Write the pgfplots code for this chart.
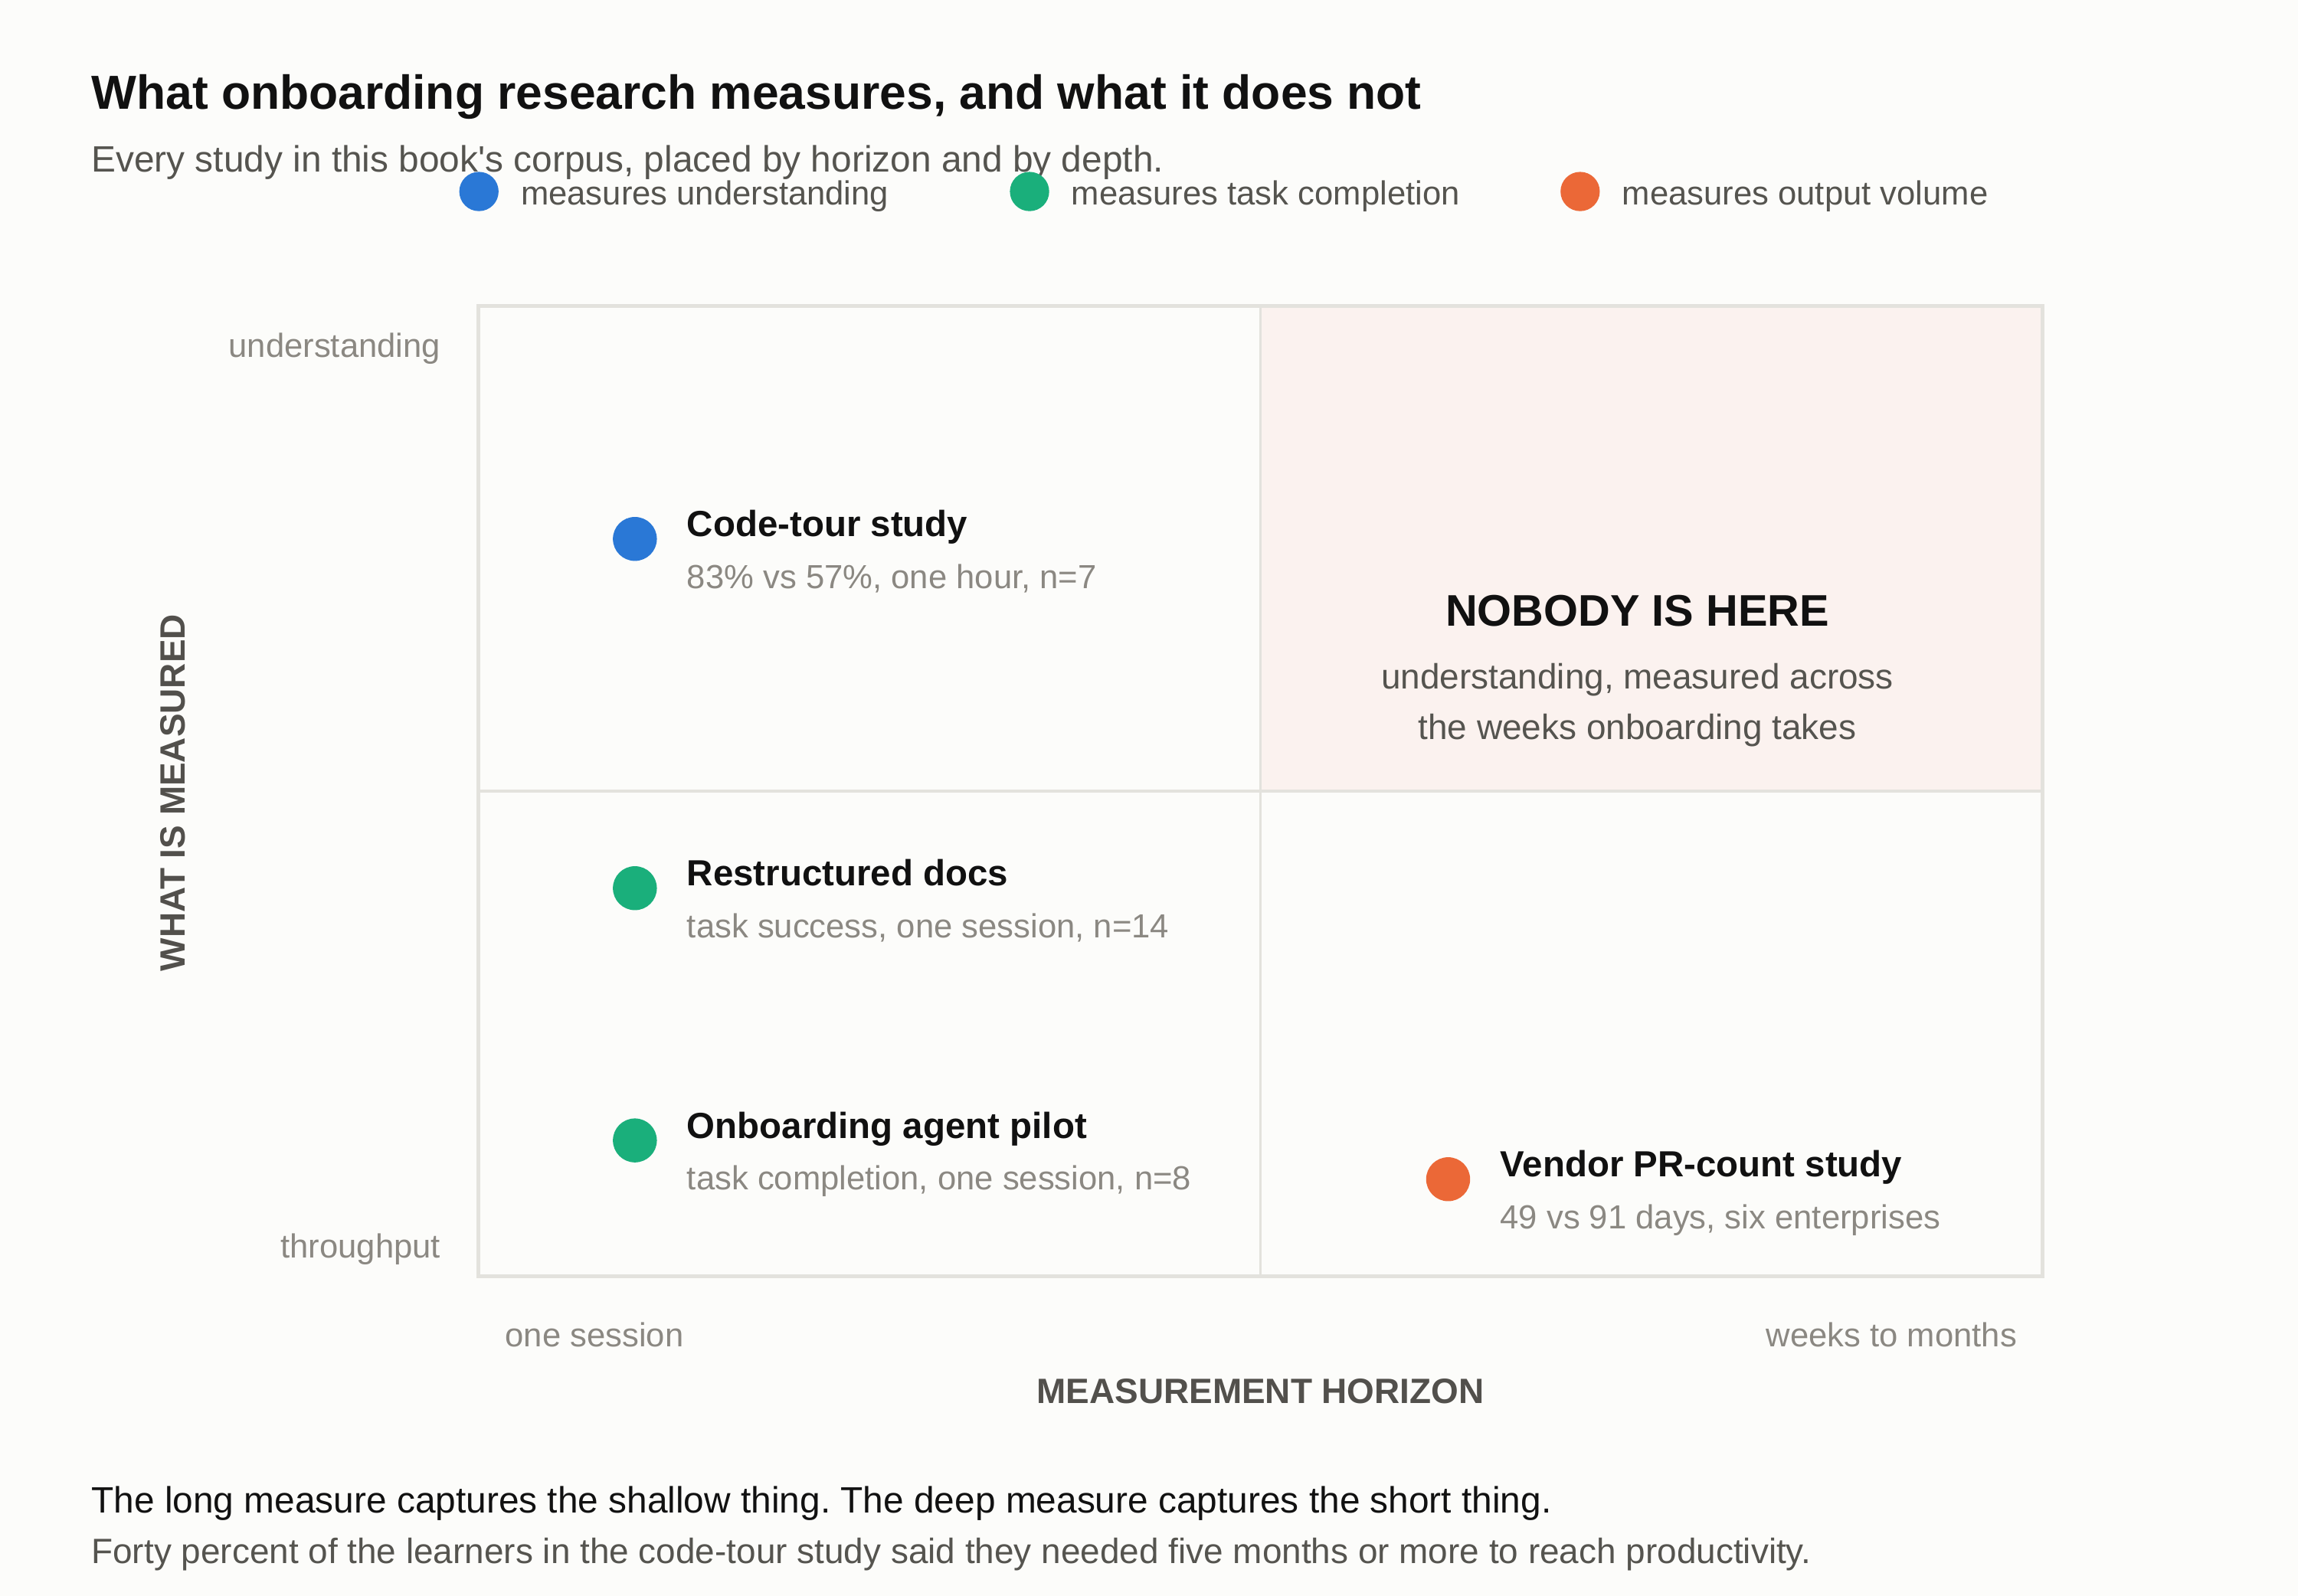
\documentclass[border=0pt]{standalone}
\usepackage{fontspec}
\setmainfont{Liberation Sans}[Ligatures=TeXOff]
\usepackage{pgfplots}
\pgfplotsset{compat=1.18}

\definecolor{bg}{HTML}{FCFCFA}
\definecolor{ink}{HTML}{111111}
\definecolor{sub}{HTML}{55544F}
\definecolor{tickgray}{HTML}{8B8882}
\definecolor{axlab}{HTML}{52504C}
\definecolor{frame}{HTML}{E3E2DD}
\definecolor{pinkq}{HTML}{FBF2EF}
\definecolor{cblue}{HTML}{2A78D6}
\definecolor{cgreen}{HTML}{1AAF7B}
\definecolor{corange}{HTML}{EB6837}

\begin{document}
\frenchspacing
\begin{tikzpicture}[x=0.5pt,y=0.5pt,
    lab/.style={anchor=base west, inner sep=0pt, xshift=17.6pt, yshift=0.75pt, text=ink,
      font=\fontsize{12.4pt}{15pt}\selectfont\bfseries},
    sublab/.style={anchor=base west, inner sep=0pt, xshift=17.6pt, yshift=-16.8pt,
      text=tickgray, font=\fontsize{11.4pt}{13pt}\selectfont}]
% page background, 1568 x 1089.2 screen px
\fill[bg] (0,0) rectangle (1568,1089.2);

\node[anchor=base west, inner sep=0pt, text=ink, font=\fontsize{16.3pt}{20pt}\selectfont\bfseries]
  at (62,1014.6) {What onboarding research measures, and what it does not};
\node[anchor=base west, inner sep=0pt, text=sub, font=\fontsize{12.5pt}{15pt}\selectfont]
  at (62,971.9) {Every study in this book's corpus, placed by horizon and by depth.};

\begin{axis}[
    at={(163.25pt,109.1pt)}, anchor=south west,
    scale only axis, width=533.55pt, height=331.05pt,
    xmin=0, xmax=1, ymin=0, ymax=1,
    xtick=\empty, ytick=\empty,
    axis on top, clip=false,
    axis line style={draw=frame, line width=1.4pt},
    xlabel={MEASUREMENT HORIZON},
    ylabel={WHAT IS MEASURED},
    xlabel style={at={(axis description cs:0.5,-0.1312)}, anchor=base, inner sep=0pt,
      text=axlab, font=\fontsize{12pt}{14pt}\selectfont\bfseries},
    ylabel style={at={(axis description cs:-0.1954,0.4984)}, anchor=center, inner sep=0pt,
      text=axlab, font=\fontsize{12pt}{14pt}\selectfont\bfseries},
    legend columns=3,
    legend image code/.code={\fill[#1] (6.5pt,1.2pt) circle (6.5pt);},
    legend style={at={(axis description cs:-0.01228,1.11812)}, anchor=west,
      draw=none, fill=none, inner sep=0pt, outer sep=0pt,
      font=\fontsize{11.4pt}{13pt}\selectfont, text=sub,
      nodes={inner sep=0pt},
      /tikz/every odd column/.append style={column sep=7.65pt},
      /tikz/every even column/.append style={column sep=0pt}},
  ]
  % empty quadrant and dividers
  \addplot[forget plot, draw=none, fill=pinkq, mark=none]
    coordinates {(0.5,0.5) (1,0.5) (1,1) (0.5,1)} -- cycle;
  \addplot[forget plot, draw=frame, line width=1pt, mark=none]
    coordinates {(0.5,0) (0.5,1)};
  \addplot[forget plot, draw=frame, line width=1pt, mark=none]
    coordinates {(0,0.5) (1,0.5)};

  % studies
  \addplot[only marks, mark=*, mark size=7.3pt, color=cblue, mark options={draw=none}]
    coordinates {(0.1,0.76)};
  \addlegendentry{\makebox[166.8pt][l]{measures understanding}}
  \addplot[only marks, mark=*, mark size=7.3pt, color=cgreen, mark options={draw=none}]
    coordinates {(0.1,0.40) (0.1,0.14)};
  \addlegendentry{\makebox[166.8pt][l]{measures task completion}}
  \addplot[only marks, mark=*, mark size=7.3pt, color=corange, mark options={draw=none}]
    coordinates {(0.62,0.10)};
  \addlegendentry{measures output volume}

  \node[lab] at (axis cs:0.1,0.76) {Code-tour study};
  \node[sublab] at (axis cs:0.1,0.76) {83\% vs 57\%, one hour, n=7};
  \node[lab] at (axis cs:0.1,0.40) {Restructured docs};
  \node[sublab] at (axis cs:0.1,0.40) {task success, one session, n=14};
  \node[lab] at (axis cs:0.1,0.14) {Onboarding agent pilot};
  \node[sublab] at (axis cs:0.1,0.14) {task completion, one session, n=8};
  \node[lab] at (axis cs:0.62,0.10) {Vendor PR-count study};
  \node[sublab] at (axis cs:0.62,0.10) {49 vs 91 days, six enterprises};

  \node[anchor=base, inner sep=0pt, text=ink, font=\fontsize{15.1pt}{18pt}\selectfont\bfseries]
    at (axis cs:0.741,0.670) {NOBODY IS HERE};
  \node[anchor=base, inner sep=0pt, text=sub, font=\fontsize{12pt}{14pt}\selectfont]
    at (axis cs:0.741,0.6056) {understanding, measured across};
  \node[anchor=base, inner sep=0pt, text=sub, font=\fontsize{12pt}{14pt}\selectfont]
    at (axis cs:0.741,0.5534) {the weeks onboarding takes};
\end{axis}

% end labels of the two scales
\begin{scope}[every node/.style={inner sep=0pt, text=tickgray, font=\fontsize{11.4pt}{13pt}\selectfont}]
  \node[anchor=base east] at (301,845.2) {understanding};
  \node[anchor=base east] at (301,230.8) {throughput};
  \node[anchor=base west] at (344.4,170.2) {one session};
  \node[anchor=base east] at (1376.5,170.2) {weeks to months};
\end{scope}

\node[anchor=base west, inner sep=0pt, text=ink, font=\fontsize{12.5pt}{15pt}\selectfont]
  at (62,56.9) {The long measure captures the shallow thing. The deep measure captures the short thing.};
\node[anchor=base west, inner sep=0pt, text=sub, font=\fontsize{12pt}{14pt}\selectfont]
  at (62,22) {Forty percent of the learners in the code-tour study said they needed five months or more to reach productivity.};
\end{tikzpicture}
\end{document}
